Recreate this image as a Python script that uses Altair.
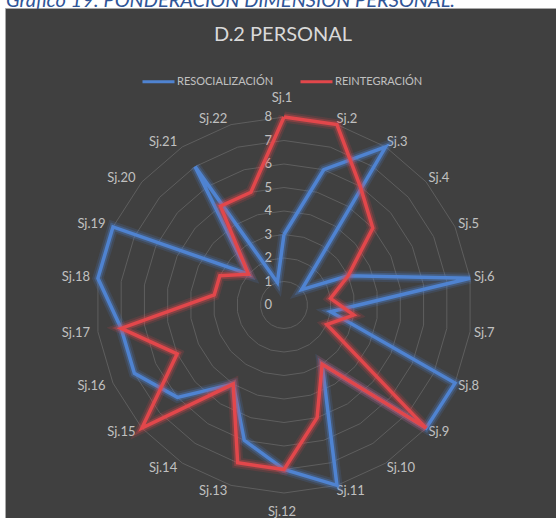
import altair as alt
import pandas as pd

# Radar: 22 subjects, two series scored 0-8
sujetos = [f"Sj.{i}" for i in range(1, 23)]
resocializacion = [3, 6, 8, 1, 3, 8, 2, 8, 8, 3, 8, 7, 6, 4, 6, 7, 7, 8, 8, 2, 7, 1]
reintegracion = [8, 8, 6, 5, 3, 2, 3, 2, 8, 3, 5, 7, 7, 4, 8, 5, 7, 3, 3, 2, 5, 5]
niveles = [0, 1, 2, 3, 4, 5, 6, 7, 8]
series = ["RESOCIALIZACIÓN", "REINTEGRACIÓN"]
colores = ["#4f83d1", "#e2474b"]

titulo = "D.2 PERSONAL"
leyenda_grafico = "Gráfico 19: PONDERACIÓN DIMENSIÓN PERSONAL."

# Page geometry (pixels) and radial unit
W, H = 556, 518
CX, CY = 284, 305
UNIT = 23.5
N = len(sujetos)

FONT = "Lato"
TXT = "#c0c0c0"
BG = "#404040"
GRID = "#5e5e5e"

xs = alt.Scale(domain=[-CX / UNIT, (W - CX) / UNIT], nice=False, zero=False)
ys = alt.Scale(domain=[-(H - CY) / UNIT, CY / UNIT], nice=False, zero=False)
color_scale = alt.Scale(domain=series, range=colores)

# Long table of polygon vertices, closing each ring back to the first subject
rows = []
for nombre, valores in zip(series, [resocializacion, reintegracion]):
    for k in range(N + 1):
        rows.append({"serie": nombre, "i": k % N, "orden": k, "valor": valores[k % N]})
df = pd.DataFrame(rows)

grid_rows = [{"nivel": n, "i": k % N, "orden": k} for n in niveles[1:] for k in range(N + 1)]
df_grid = pd.DataFrame(grid_rows)
df_niveles = pd.DataFrame({"nivel": niveles})
df_suj = pd.DataFrame({"suj": sujetos, "i": list(range(N))})

ang = f"2 * PI * datum.i / {N}"


def polar(chart, radio):
    return chart.transform_calculate(
        ang=ang
    ).transform_calculate(
        px=f"({radio}) * sin(datum.ang)",
        py=f"({radio}) * cos(datum.ang)",
    )


X = alt.X("px:Q", scale=xs, axis=None)
Y = alt.Y("py:Q", scale=ys, axis=None)

fondo = alt.Chart(pd.DataFrame({"a": [0]})).mark_rect(
    fill=BG, stroke="#a8a8a8", strokeWidth=1
).encode(x=alt.value(5.5), x2=alt.value(W + 5), y=alt.value(8.5), y2=alt.value(H + 5))

caption = alt.Chart(pd.DataFrame({"t": [leyenda_grafico]})).mark_text(
    font=FONT, fontSize=20, fontStyle="italic", color="#2f5597",
    align="left", baseline="alphabetic"
).encode(text="t:N", x=alt.value(6), y=alt.value(7))

title = alt.Chart(pd.DataFrame({"t": [titulo]})).mark_text(
    font=FONT, fontSize=20, color="#d9d9d9", align="center", baseline="middle"
).encode(text="t:N", x=alt.value(283), y=alt.value(35))

grid = polar(alt.Chart(df_grid), "datum.nivel").mark_line(
    color=GRID, strokeWidth=1
).encode(x=X, y=Y, detail="nivel:N", order="orden:Q")

val_labels = alt.Chart(df_niveles).transform_calculate(
    px="0", py="datum.nivel"
).mark_text(
    font=FONT, fontSize=13, color=TXT, align="right", baseline="middle", dx=-12
).encode(x=X, y=Y, text="nivel:Q")

base_suj = alt.Chart(df_suj).transform_calculate(
    ang=ang
).transform_calculate(s="sin(datum.ang)", c="cos(datum.ang)")

lab_der = base_suj.transform_filter("datum.s > 0.05").transform_calculate(
    px="8.25 * datum.s", py="8.25 * datum.c"
).mark_text(font=FONT, fontSize=13, color=TXT, align="left", baseline="middle", dx=-2).encode(
    x=X, y=Y, text="suj:N")
lab_izq = base_suj.transform_filter("datum.s < -0.05").transform_calculate(
    px="8.25 * datum.s", py="8.25 * datum.c"
).mark_text(font=FONT, fontSize=13, color=TXT, align="right", baseline="middle", dx=-2).encode(
    x=X, y=Y, text="suj:N")
lab_cen = base_suj.transform_filter("abs(datum.s) <= 0.05").transform_calculate(
    px="8.8 * datum.s", py="8.8 * datum.c"
).mark_text(font=FONT, fontSize=13, color=TXT, align="center", baseline="middle", dx=-2).encode(
    x=X, y=Y, text="suj:N")

legend = alt.Legend(
    orient="none", legendX=141, legendY=64, direction="horizontal", title=None,
    symbolType="stroke", symbolSize=1024, symbolStrokeWidth=3, symbolOpacity=1,
    labelColor=TXT, labelFont=FONT, labelFontSize=11, labelOffset=1,
    columnPadding=20, padding=0,
)

capas = []
for nombre in series:
    base = polar(alt.Chart(df).transform_filter(alt.datum.serie == nombre), "datum.valor")
    enc = dict(x=X, y=Y, order="orden:Q",
               color=alt.Color("serie:N", scale=color_scale, legend=legend))
    capas.append(base.mark_line(strokeWidth=11, opacity=0.16, strokeJoin="miter").encode(**enc))
    capas.append(base.mark_line(strokeWidth=7, opacity=0.32, strokeJoin="miter").encode(**enc))
    capas.append(base.mark_line(strokeWidth=3.5, strokeJoin="miter").encode(**enc))

chart = alt.layer(
    fondo, caption, title, grid, val_labels, lab_der, lab_izq, lab_cen, *capas
).properties(
    width=W, height=H, padding=0, autosize=alt.AutoSizeParams(type="none"),
    background="white",
).configure_view(stroke=None)

chart.save("out.html", embed_options={"renderer": "svg", "actions": False})
